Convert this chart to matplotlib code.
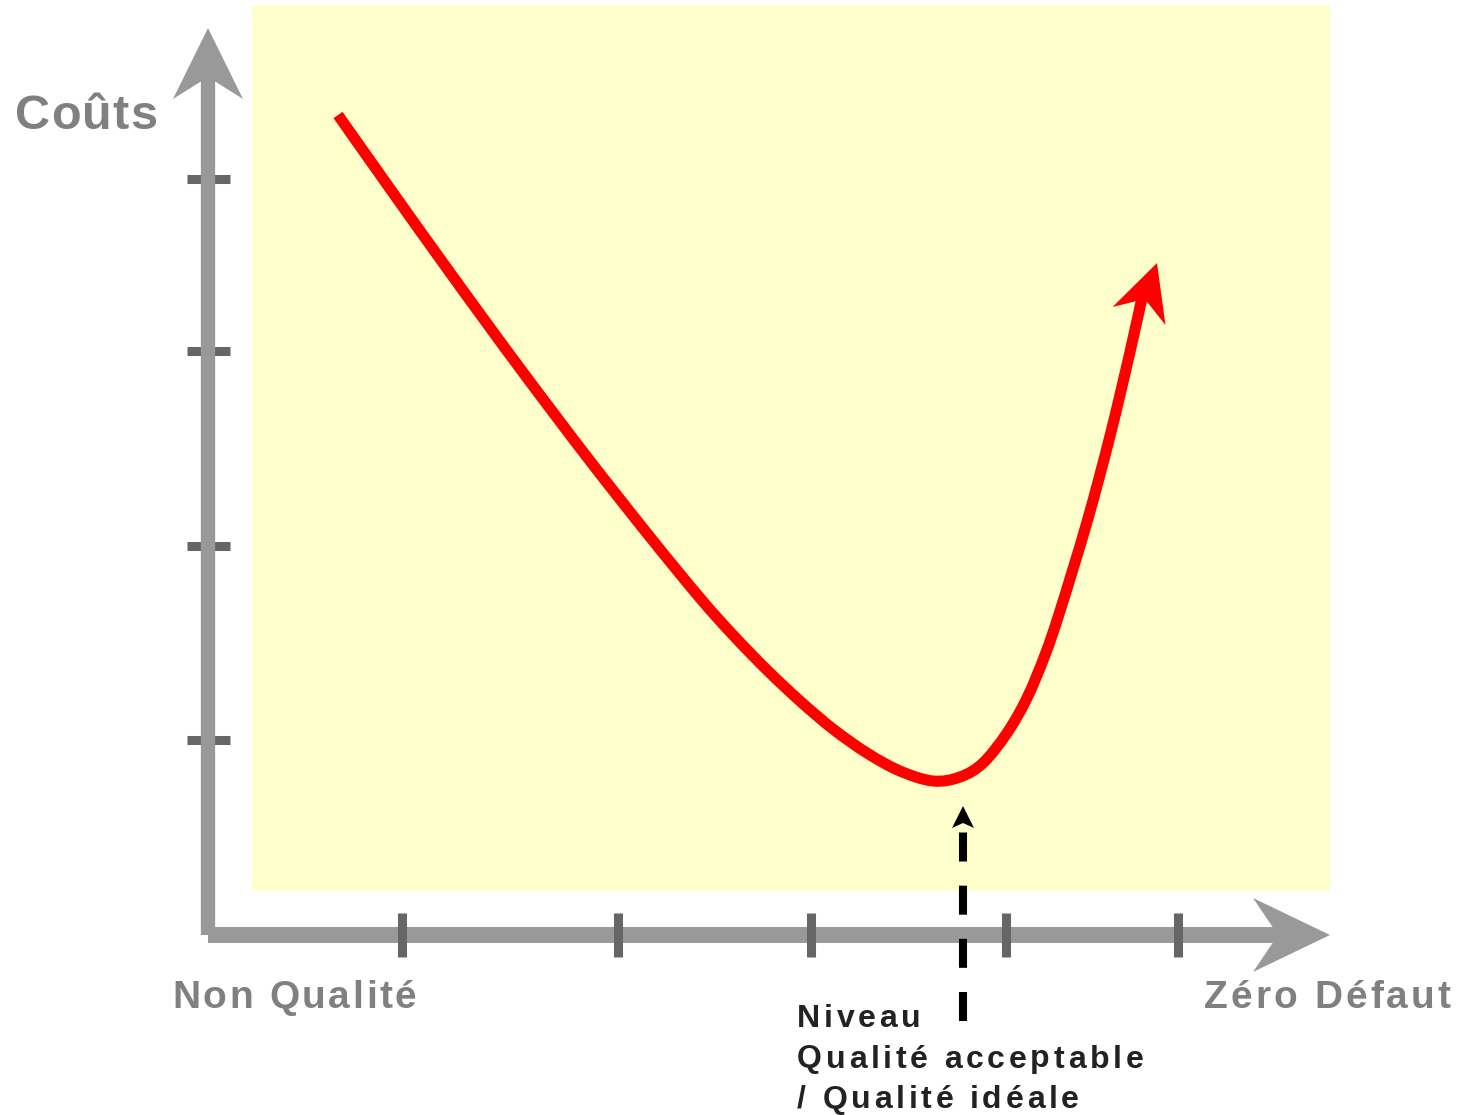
import matplotlib
matplotlib.use("Agg")
import matplotlib.pyplot as plt
import numpy as np
from matplotlib.patches import Rectangle, Polygon, PathPatch
from matplotlib.path import Path
from matplotlib.font_manager import FontProperties, findfont, get_font

# cost curve (quality on x, cost on y), origin = axes corner
curve_x = [130, 178, 243, 311, 379, 442, 492, 525, 559, 592, 625, 659, 692, 725,
           752, 775, 799, 819, 837, 852, 879, 902, 922, 935]
curve_y = [820, 752, 661, 568, 478, 398, 337, 300, 265, 234, 206, 182, 164, 154,
           158, 172, 202, 237, 280, 324, 413, 499, 583, 642]
curve_tip = (949, 672)

x_ticks = [194, 410, 603, 798, 970]
y_ticks = [195, 389, 584, 756]

optimum_x = 755
optimum_top = 129

y_label = "Coûts"
x_label_left = "Non Qualité"
x_label_right = "Zéro Défaut"
optimum_lines = ["Niveau", "Qualité acceptable", "/ Qualité idéale"]

AXIS_GRAY = "#999999"
TICK_GRAY = "#666666"
TEXT_GRAY = "#808080"
RED = "#ff0000"
BG = "#ffffcc"


def stealth(ax, tip, direction, length, half, notch, color, z):
    d = np.asarray(direction, float)
    d = d / np.linalg.norm(d)
    n = np.array([-d[1], d[0]])
    tip = np.asarray(tip, float)
    base = tip - d * length
    pts = [tip, base + n * half, base + d * notch, base - n * half]
    ax.add_patch(Polygon(pts, closed=True, facecolor=color, edgecolor="none", zorder=z))


def spaced_text(ax, x, y, s, size, spacing, color):
    fp = FontProperties(family="Liberation Sans", weight="bold", size=size)
    font = get_font(findfont(fp))
    font.set_size(size, 72)
    off = 0.0
    for ch in s:
        ax.annotate(ch, xy=(x, y), xytext=(off, 0), textcoords="offset points",
                    fontproperties=fp, color=color, ha="left", va="baseline")
        g = font.load_char(ord(ch))
        off += g.linearHoriAdvance / 65536 + spacing


fig = plt.figure(figsize=(14.66, 11.15), dpi=100)
ax = fig.add_axes([0, 0, 1, 1])
ax.set_xlim(-208, 1258)
ax.set_ylim(-180, 935)
ax.axis("off")

# background panel
ax.add_patch(Rectangle((44, 44), 1078, 886, facecolor=BG, edgecolor="none", zorder=0))

# ticks
for t in y_ticks:
    ax.plot([-21, 22], [t, t], color=TICK_GRAY, lw=6.5, solid_capstyle="butt", zorder=1)
for t in x_ticks:
    ax.plot([t, t], [-22, 22], color=TICK_GRAY, lw=6.5, solid_capstyle="butt", zorder=3)

# axes with arrows
ax.plot([0, 0], [0, 860], color=AXIS_GRAY, lw=10.3, solid_capstyle="butt", zorder=2)
stealth(ax, (0, 907), (0, 1), 71, 35, 22, AXIS_GRAY, 2)
ax.plot([0, 1072], [0, 0], color=AXIS_GRAY, lw=11.5, solid_capstyle="butt", zorder=2)
stealth(ax, (1122, 0), (1, 0), 77, 37, 25, AXIS_GRAY, 2)

# red cost curve: Catmull-Rom bezier through the read points
pts = np.column_stack([curve_x, curve_y]).astype(float)
ext = np.vstack([pts[0], pts, pts[-1]])
verts = [pts[0]]
codes = [Path.MOVETO]
for i in range(1, len(ext) - 2):
    p0, p1, p2, p3 = ext[i - 1], ext[i], ext[i + 1], ext[i + 2]
    verts += [p1 + (p2 - p0) / 6, p2 - (p3 - p1) / 6, p2]
    codes += [Path.CURVE4] * 3
ax.add_patch(PathPatch(Path(verts, codes), facecolor="none", edgecolor=RED, lw=8,
                       capstyle="butt", zorder=4))
stealth(ax, curve_tip, (18, 53), 56, 28, 18, RED, 4)

# optimum marker: dashed arrow
ax.plot([optimum_x, optimum_x], [-86, optimum_top - 26], color="black", lw=5.8,
        linestyle=(0, (3.6, 3.0)), dash_capstyle="butt", zorder=5)
stealth(ax, (optimum_x, optimum_top), (0, 1), 22, 11, 5, "black", 5)

# labels
spaced_text(ax, -193, 806, y_label, 35, 0.8, TEXT_GRAY)
spaced_text(ax, -36, -73, x_label_left, 28, 1.9, TEXT_GRAY)
spaced_text(ax, 996, -73, x_label_right, 28, 2.2, TEXT_GRAY)
for k, line in enumerate(optimum_lines):
    spaced_text(ax, 589, -92 - 40.5 * k, line, 23, 2.7, "#222222")

fig.savefig("out.png", dpi=100)
plt.close(fig)
